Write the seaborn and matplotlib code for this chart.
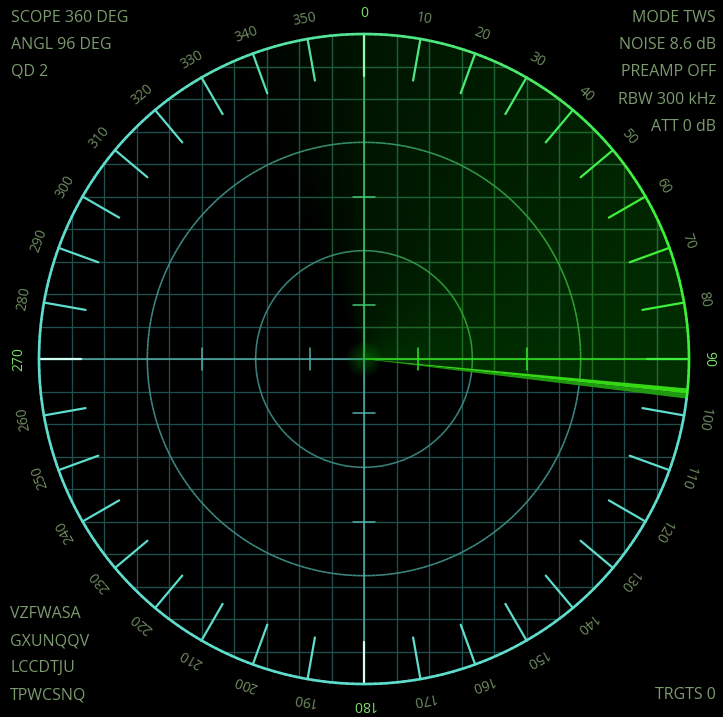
import numpy as np
import pandas as pd
import matplotlib
matplotlib.use("Agg")
import matplotlib.pyplot as plt
import seaborn as sns
from matplotlib.patches import Wedge, Circle
from matplotlib.collections import LineCollection, PolyCollection
from matplotlib.colors import to_rgb

# ---------------- data ----------------
bearing_ticks = list(range(0, 360, 10))
bearing_labels = [str(b) for b in bearing_ticks]
cardinal_bearings = [0, 90, 180, 270]
ring_radii = [1 / 3, 2 / 3]
cross_tick_radii = [1 / 6, 1 / 2]
grid_positions = [k / 10 for k in range(-10, 11)]
sweep_angle = 96
trail_start = -40
info_top_left = ["SCOPE 360 DEG", "ANGL 96 DEG", "QD 2"]
info_top_right = ["MODE TWS", "NOISE 8.6 dB", "PREAMP OFF", "RBW 300 kHz", "ATT 0 dB"]
info_bottom_left = ["VZFWASA", "GXUNQQV", "LCCDTJU", "TPWCSNQ"]
info_bottom_right = ["TRGTS 0"]

# ---------------- style ----------------
sns.set_theme(style="dark", rc={"axes.facecolor": "black", "figure.facecolor": "black"})
plt.rcParams["font.family"] = ["Open Sans", "DejaVu Sans"]

W, H = 723, 717
CX, CY, R = 364, 359, 325
fig = plt.figure(figsize=(W / 100, H / 100), dpi=100)
ax = fig.add_axes([0, 0, 1, 1])
ax.set_xlim(-CX / R, (W - CX) / R)
ax.set_ylim(-(H - CY) / R, CY / R)
ax.axis("off")

CYAN = "#5fdccc"
GREEN = "#3ff03a"
TEXT = "#7b9a6e"


def mix(c1, c2, s):
    a, b = np.array(to_rgb(c1)), np.array(to_rgb(c2))
    return tuple(a * (1 - s) + b * s)


def trail(b):
    a = ((b + 180) % 360) - 180
    if a > sweep_angle + 1 or a < trail_start:
        return 0.0
    return float(np.clip((a - trail_start) / 100.0, 0, 1))


def pol(r, b):
    t = np.radians(b)
    return r * np.sin(t), r * np.cos(t)


# ---------------- sweep trail fill ----------------
polys, fcols = [], []
b = -25.0
while b < 95.2:
    b2 = min(b + 0.5, 95.2)
    arc = np.linspace(b, b2, 3)
    pts = [(0, 0)] + [pol(1.0, x) for x in arc]
    polys.append(pts)
    if b < 0:
        g = 0.085 * ((b + 25) / 25) ** 1.3
    else:
        g = 0.085 + 0.105 * (b / 95)
    fcols.append((0, g, 0))
    b = b2
ax.add_collection(PolyCollection(polys, facecolors=fcols, edgecolors=fcols, linewidths=0.4, zorder=1))

# ---------------- grid ----------------
clip_circle = Circle((0, 0), 1.0, transform=ax.transData)
segs = []
for p in grid_positions:
    segs.append([(p, -1), (p, 1)])
    segs.append([(-1, p), (1, p)])
lc = LineCollection(segs, colors="#1e4f4c", linewidths=0.95, zorder=2)
ax.add_collection(lc)
lc.set_clip_path(clip_circle)
for (b1, b2, al) in [(-25, 0, 0.35), (0, 30, 0.6), (30, 60, 0.85), (60, 96, 1.0)]:
    wclip = Wedge((0, 0), 1.0, 90 - b2, 90 - b1, transform=ax.transData)
    lcg = LineCollection(segs, colors="#206c20", linewidths=0.95, alpha=al, zorder=2.1)
    ax.add_collection(lcg)
    lcg.set_clip_path(wclip)

# ---------------- rings ----------------
deg = np.arange(0, 361, 1.0)
for rr in ring_radii:
    rs, cs = [], []
    for i in range(len(deg) - 1):
        rs.append([pol(rr, deg[i]), pol(rr, deg[i + 1])])
        cs.append(mix("#3d8a84", "#2fa02f", trail(deg[i] + 0.5)))
    ax.add_collection(LineCollection(rs, colors=cs, linewidths=1.15, zorder=3))
rs, cs = [], []
for i in range(len(deg) - 1):
    rs.append([pol(1.0, deg[i]), pol(1.0, deg[i + 1])])
    cs.append(mix(CYAN, GREEN, trail(deg[i] + 0.5)))
ax.add_collection(LineCollection(rs, colors=cs, linewidths=1.9, zorder=5, capstyle="round"))

# ---------------- axis cross lines ----------------
for cb in cardinal_bearings:
    s = trail(cb)
    col = mix("#50b0aa", "#30e820", s)
    x1, y1 = pol(1.0, cb)
    ax.plot([0, x1], [0, y1], color=col, lw=1.1, zorder=3.5)
    for ct in cross_tick_radii:
        px, py = pol(ct, cb)
        qx, qy = pol(0.034, cb + 90)
        ax.plot([px - qx, px + qx], [py - qy, py + qy], color=col, lw=1.1, zorder=3.5)

# ---------------- degree ticks (seaborn) ----------------
rows = []
pal = {}
for b in bearing_ticks:
    base = "#d0fff4" if b in cardinal_bearings else CYAN
    pal[b] = mix(base, GREEN, trail(b))
    for rr in (0.87, 1.0):
        x, y = pol(rr, b)
        rows.append({"x": x, "y": y, "tick": b})
ticks_df = pd.DataFrame(rows)
sns.lineplot(data=ticks_df, x="x", y="y", hue="tick", units="tick", estimator=None,
             sort=False, palette=pal, legend=False, linewidth=1.6, ax=ax, zorder=4)
ax.set_xlabel("")
ax.set_ylabel("")

# ---------------- beam ----------------
ax.add_patch(Wedge((0, 0), 1.0, 90 - 97.0, 90 - 96.1, facecolor="#1f9a10", edgecolor="none", zorder=4.5))
ax.add_patch(Wedge((0, 0), 1.0, 90 - 96.1, 90 - 95.2, facecolor="#34d814", edgecolor="none", zorder=4.6))

# ---------------- center glow ----------------
for k in range(10):
    rad = 0.055 * (1 - k / 10)
    ax.add_patch(Circle((0, 0), rad, facecolor="#18b018", edgecolor="none", alpha=0.045, zorder=6))

# ---------------- bearing labels ----------------
for b, lab in zip(bearing_ticks, bearing_labels):
    x, y = pol(1.062, b)
    col = "#7ee06a" if b in cardinal_bearings else "#6e8c60"
    ax.text(x, y, lab, rotation=-b, rotation_mode="anchor", ha="center", va="center",
            fontsize=10, color=col, zorder=7)

# ---------------- info texts ----------------
def put(lines, x_px, y0_px, step, ha):
    for i, t in enumerate(lines):
        fig.text(x_px / W, 1 - (y0_px + i * step) / H, t, ha=ha, va="center",
                 fontsize=11.5, color=TEXT)

put(info_top_left, 11, 18, 27, "left")
put(info_top_right, 716, 18, 27.2, "right")
put(info_bottom_left, 10, 614, 27, "left")
put(info_bottom_right, 716, 695, 27, "right")

fig.savefig("out.png", dpi=100, facecolor="black")
